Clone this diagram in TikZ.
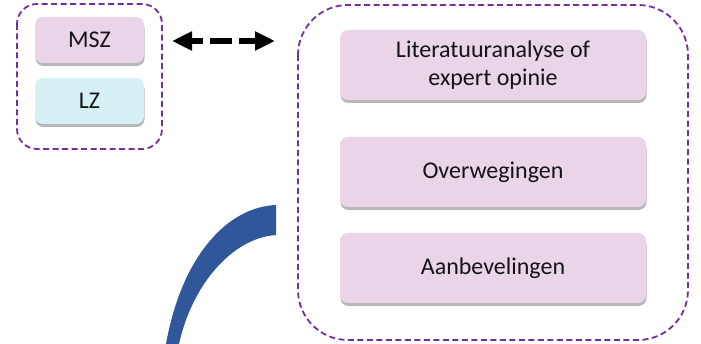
\documentclass[tikz,border=0pt]{standalone}
\usepackage{fontspec}
\setmainfont{Carlito}
\usetikzlibrary{shadows,arrows.meta}
\definecolor{boxpink}{RGB}{234,212,232}
\definecolor{boxcyan}{RGB}{214,241,246}
\definecolor{dashpurple}{RGB}{112,48,160}
\definecolor{arcblue}{RGB}{47,87,154}
\definecolor{txt}{RGB}{20,20,20}
\tikzset{
  itembox/.style={rectangle, rounded corners=8pt, draw=none, align=center,
    text=txt, font=\fontsize{24}{28}\selectfont,
    drop shadow={shadow xshift=0.5pt, shadow yshift=-3pt, fill=black!70, opacity=0.4}},
  groupbox/.style={draw=dashpurple, line width=1.8pt, dash pattern=on 6pt off 3.5pt},
  bigarrow/.style={line width=6pt, dash pattern=on 12pt off 7pt on 22pt off 7pt on 40pt,
    {Triangle[length=20pt,width=18pt]}-{Triangle[length=20pt,width=18pt]}}
}
\begin{document}
\begin{tikzpicture}[x=1pt,y=-1pt]
\useasboundingbox (0,0) rectangle (701,344);
% group frames
\draw[groupbox, rounded corners=20pt] (17,4) rectangle (162,149);
\draw[groupbox, rounded corners=50pt] (298,5) rectangle (688,340);
% left boxes
\node[itembox, fill=boxpink, minimum width=109pt, minimum height=46pt] (msz) at (89.5,40) {MSZ};
\node[itembox, fill=boxcyan, minimum width=109pt, minimum height=46pt] (lz) at (89.5,101) {LZ};
% right boxes
\node[itembox, fill=boxpink, minimum width=306pt, minimum height=70pt] (lit) at (493,65) {Literatuuranalyse of\\expert opinie};
\node[itembox, fill=boxpink, minimum width=306pt, minimum height=70pt] (ovw) at (493,172) {Overwegingen};
\node[itembox, fill=boxpink, minimum width=306pt, minimum height=70pt] (aanb) at (493,268) {Aanbevelingen};
% arrow
\coordinate (al) at (172,41);
\coordinate (ar) at (275,41);
\draw[bigarrow] (al) -- (ar);
% blue arc
\fill[arcblue] (276,205) .. controls (228,207) and (182,255) .. (166,344)
  -- (179,344) .. controls (192,285) and (232,238) .. (276,235) -- cycle;
\end{tikzpicture}
\end{document}
